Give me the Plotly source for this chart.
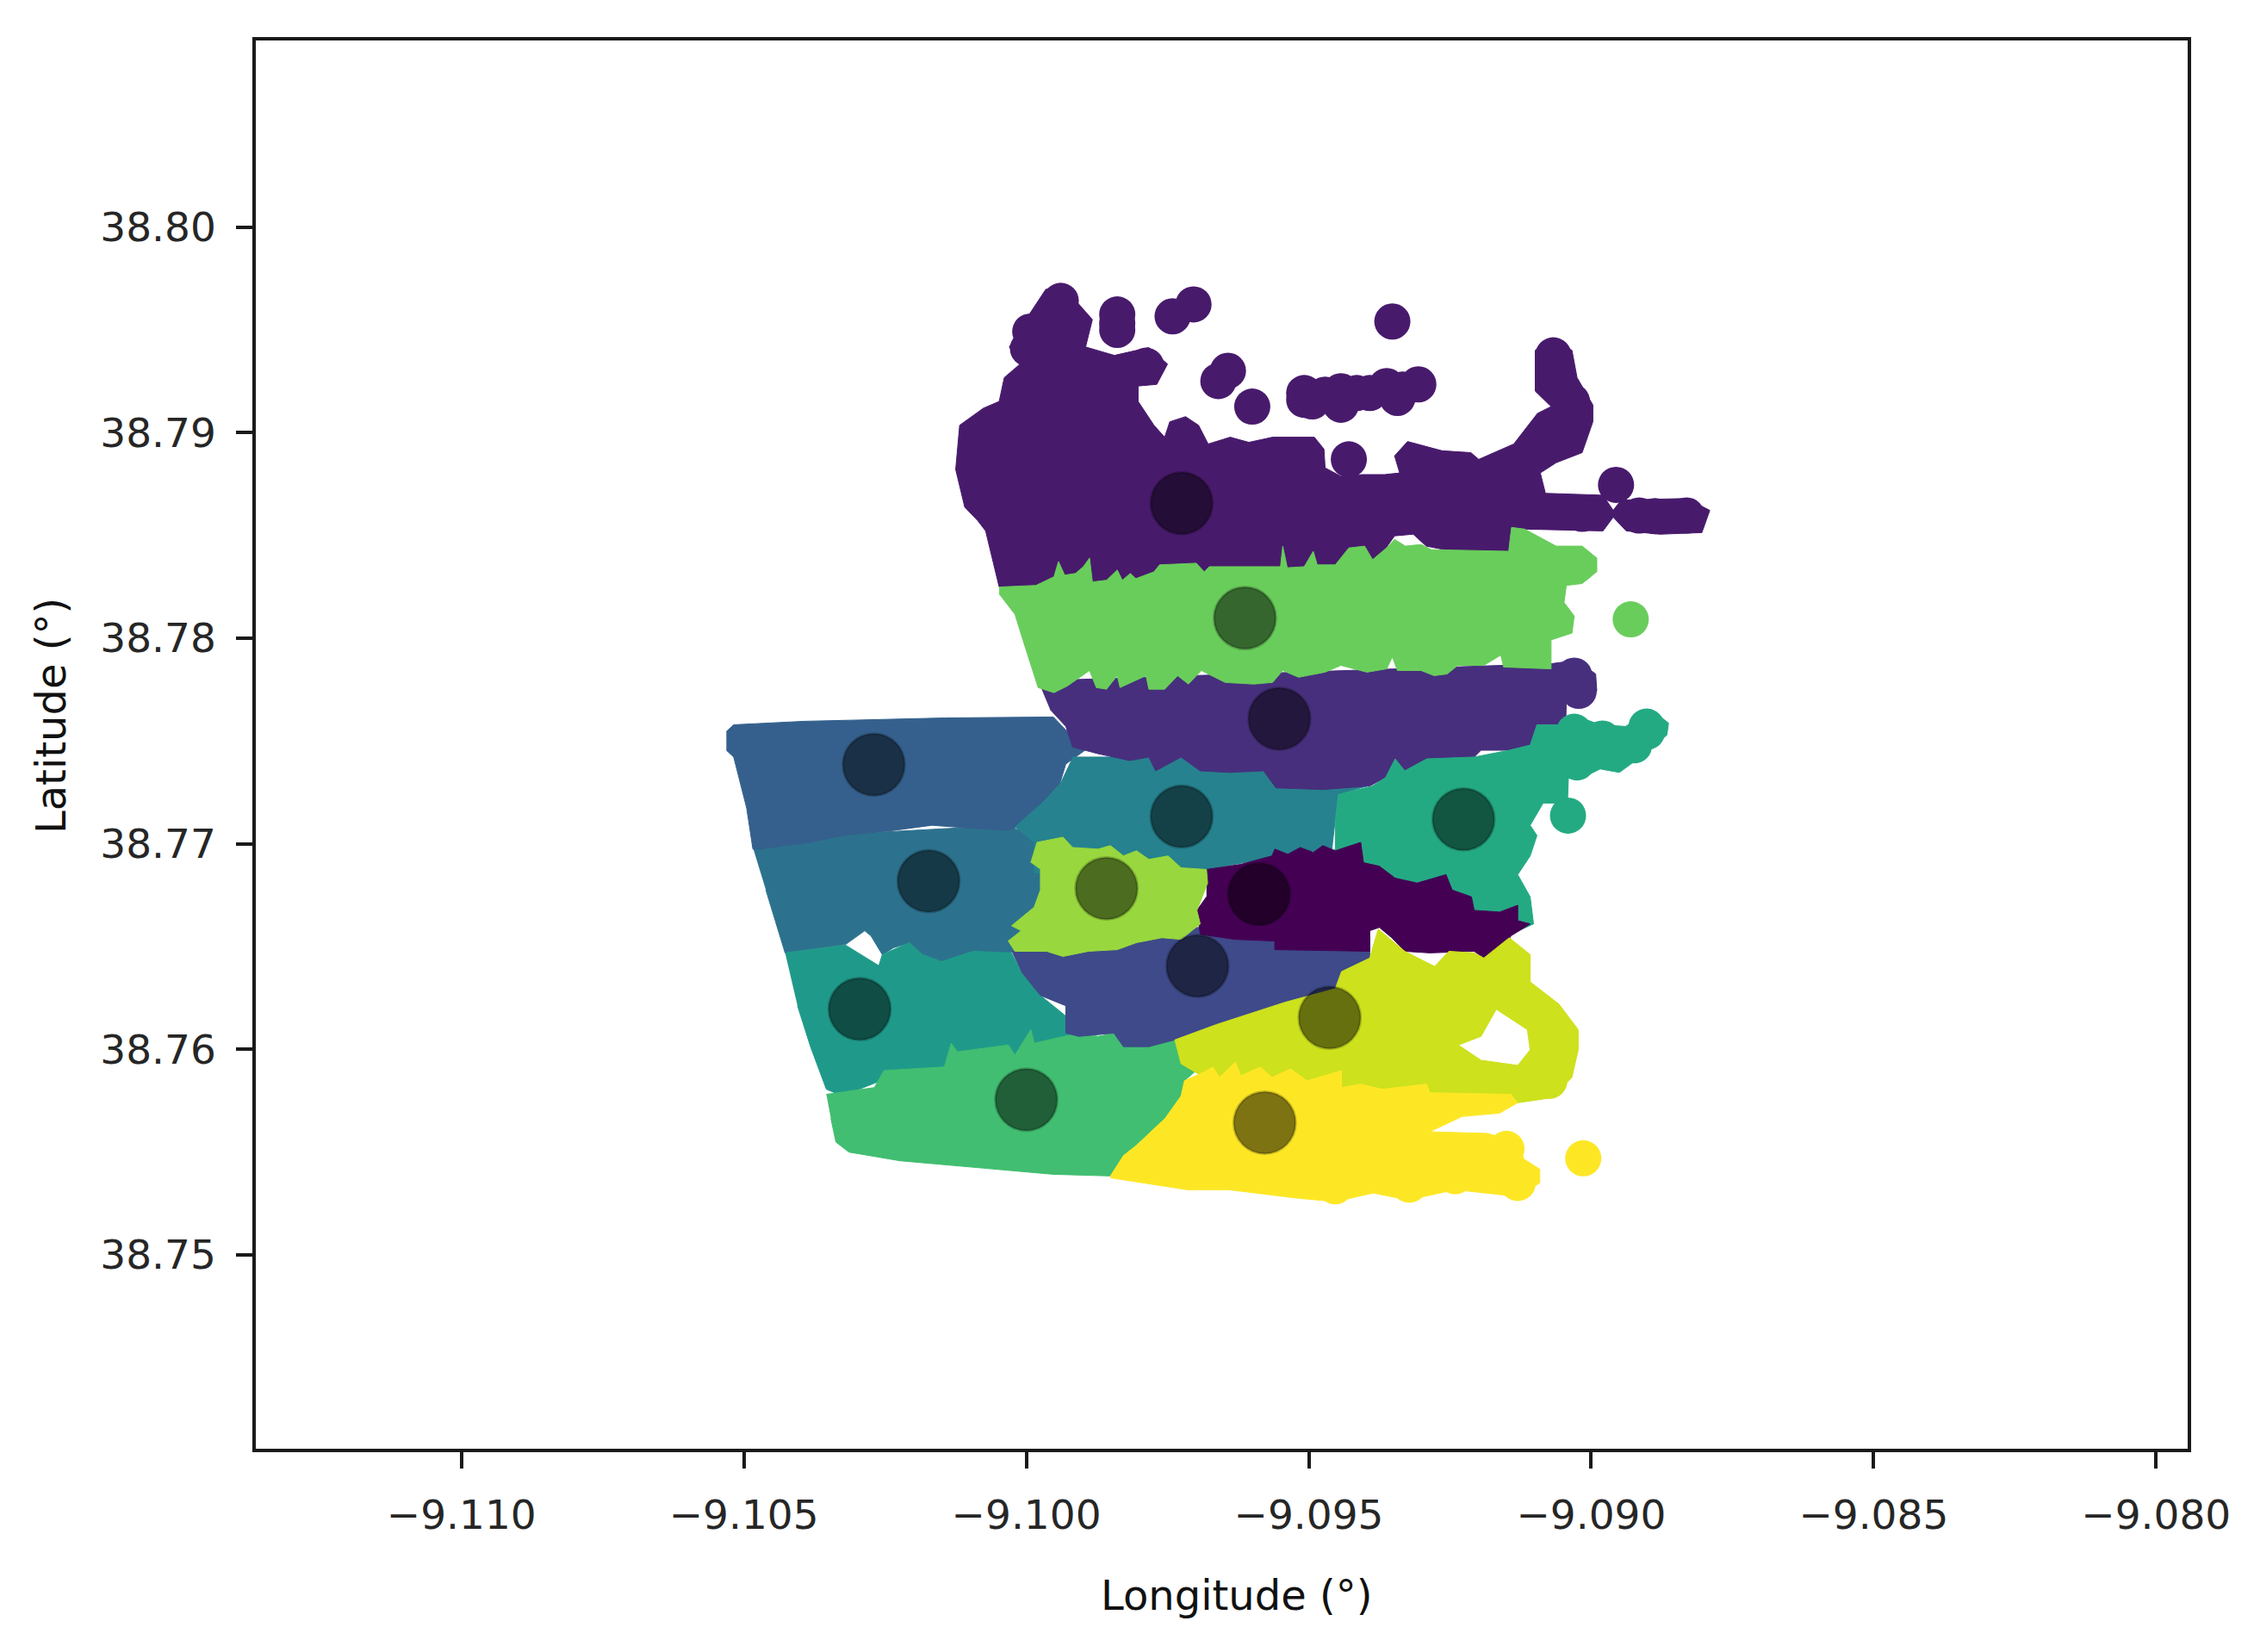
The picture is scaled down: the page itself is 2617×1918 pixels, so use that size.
import plotly.graph_objects as go

# region outlines, (longitude, latitude)
top_purple = [(-9.09937, 38.79719), (-9.09909, 38.79633), (-9.09883, 38.79550), (-9.09895, 38.79417),
    (-9.09844, 38.79376), (-9.09783, 38.79414), (-9.09750, 38.79334), (-9.09769, 38.79235),
    (-9.09802, 38.79227), (-9.09802, 38.79152), (-9.09774, 38.79036), (-9.09755, 38.78978),
    (-9.09746, 38.79053), (-9.09718, 38.79078), (-9.09695, 38.79036), (-9.09678, 38.78945),
    (-9.09639, 38.78978), (-9.09606, 38.78953), (-9.09564, 38.78978), (-9.09490, 38.78978),
    (-9.09473, 38.78920), (-9.09471, 38.78829), (-9.09443, 38.78788), (-9.09406, 38.78796),
    (-9.09366, 38.78796), (-9.09339, 38.78804), (-9.09348, 38.78887), (-9.09325, 38.78957),
    (-9.09264, 38.78912), (-9.09213, 38.78903), (-9.09199, 38.78870), (-9.09137, 38.78945),
    (-9.09095, 38.79094), (-9.09071, 38.79127), (-9.09099, 38.79202), (-9.09099, 38.79401),
    (-9.09071, 38.79454), (-9.09034, 38.79401), (-9.09025, 38.79268), (-9.08997, 38.79135),
    (-9.08997, 38.79053), (-9.09016, 38.78903), (-9.09062, 38.78854), (-9.09090, 38.78804),
    (-9.09081, 38.78705), (-9.08979, 38.78696), (-9.08961, 38.78622), (-9.08947, 38.78672),
    (-9.08831, 38.78680), (-9.08790, 38.78622), (-9.08804, 38.78514), (-9.08878, 38.78506),
    (-9.08938, 38.78522), (-9.08961, 38.78589), (-9.08979, 38.78522), (-9.09118, 38.78531),
    (-9.09146, 38.78423), (-9.09245, 38.78423), (-9.09292, 38.78448), (-9.09315, 38.78506),
    (-9.09348, 38.78498), (-9.09376, 38.78390), (-9.09657, 38.78274), (-9.10048, 38.78249),
    (-9.10072, 38.78522), (-9.10086, 38.78572), (-9.10109, 38.78638), (-9.10125, 38.78821),
    (-9.10118, 38.79036), (-9.10076, 38.79119), (-9.10048, 38.79152), (-9.10039, 38.79268),
    (-9.10011, 38.79334), (-9.10030, 38.79417), (-9.09997, 38.79566), (-9.09965, 38.79699)]

light_green = [(-9.10048, 38.78249), (-9.09983, 38.78257), (-9.09951, 38.78299), (-9.09943, 38.78373),
    (-9.09932, 38.78307), (-9.09913, 38.78315), (-9.09899, 38.78348), (-9.09888, 38.78390),
    (-9.09883, 38.78274), (-9.09858, 38.78282), (-9.09839, 38.78332), (-9.09830, 38.78282),
    (-9.09816, 38.78315), (-9.09806, 38.78290), (-9.09774, 38.78323), (-9.09764, 38.78357),
    (-9.09699, 38.78365), (-9.09685, 38.78323), (-9.09676, 38.78348), (-9.09550, 38.78348),
    (-9.09546, 38.78448), (-9.09538, 38.78343), (-9.09508, 38.78348), (-9.09492, 38.78423),
    (-9.09485, 38.78357), (-9.09453, 38.78357), (-9.09429, 38.78439), (-9.09401, 38.78448),
    (-9.09387, 38.78382), (-9.09362, 38.78440), (-9.09348, 38.78481), (-9.09329, 38.78448),
    (-9.09301, 38.78456), (-9.09283, 38.78431), (-9.09146, 38.78423), (-9.09141, 38.78539),
    (-9.09118, 38.78531), (-9.09062, 38.78448), (-9.09016, 38.78448), (-9.08990, 38.78390),
    (-9.08990, 38.78324), (-9.09016, 38.78266), (-9.09044, 38.78257), (-9.09048, 38.78174),
    (-9.09030, 38.78108), (-9.09034, 38.78025), (-9.09071, 38.77992), (-9.09071, 38.77851),
    (-9.09155, 38.77860), (-9.09160, 38.77918), (-9.09190, 38.77868), (-9.09236, 38.77868),
    (-9.09255, 38.77826), (-9.09278, 38.77818), (-9.09301, 38.77843), (-9.09343, 38.77843),
    (-9.09352, 38.77909), (-9.09362, 38.77851), (-9.09397, 38.77835), (-9.09443, 38.77868),
    (-9.09471, 38.77835), (-9.09518, 38.77810), (-9.09546, 38.77843), (-9.09564, 38.77785),
    (-9.09597, 38.77777), (-9.09648, 38.77785), (-9.09690, 38.77843), (-9.09713, 38.77777),
    (-9.09732, 38.77818), (-9.09755, 38.77752), (-9.09783, 38.77752), (-9.09788, 38.77818),
    (-9.09834, 38.77760), (-9.09839, 38.77818), (-9.09858, 38.77752), (-9.09876, 38.77760),
    (-9.09888, 38.77843), (-9.09927, 38.77768), (-9.09951, 38.77735), (-9.09979, 38.77760),
    (-9.10006, 38.77992), (-9.10020, 38.78116), (-9.10048, 38.78216)]

indigo = [(-9.09979, 38.77793), (-9.09071, 38.77876), (-9.09025, 38.77893), (-9.08992, 38.77826),
    (-9.08990, 38.77744), (-9.09016, 38.77661), (-9.09044, 38.77694), (-9.09045, 38.77578),
    (-9.09046, 38.77579), (-9.09096, 38.77579), (-9.09108, 38.77480), (-9.09145, 38.77455),
    (-9.09195, 38.77455), (-9.09207, 38.77422), (-9.09291, 38.77413), (-9.09330, 38.77355),
    (-9.09347, 38.77413), (-9.09364, 38.77322), (-9.09392, 38.77281), (-9.09475, 38.77264),
    (-9.09558, 38.77272), (-9.09580, 38.77355), (-9.09640, 38.77347), (-9.09692, 38.77355),
    (-9.09726, 38.77422), (-9.09771, 38.77355), (-9.09783, 38.77422), (-9.09817, 38.77405),
    (-9.09873, 38.77438), (-9.09918, 38.77471), (-9.09930, 38.77571), (-9.09958, 38.77654)]

steel_blue = [(-9.10531, 38.77546), (-9.10518, 38.77579), (-9.10393, 38.77596), (-9.10145, 38.77612),
    (-9.09952, 38.77617), (-9.09896, 38.77455), (-9.09930, 38.77388), (-9.09941, 38.77289),
    (-9.09969, 38.77206), (-9.10009, 38.77090), (-9.10032, 38.77065), (-9.10088, 38.77074),
    (-9.10167, 38.77090), (-9.10235, 38.77065), (-9.10326, 38.77040), (-9.10382, 38.77007),
    (-9.10473, 38.76974), (-9.10484, 38.76974), (-9.10495, 38.77173), (-9.10518, 38.77422),
    (-9.10531, 38.77455)]

slate_teal = [(-9.10484, 38.76982), (-9.10371, 38.77040), (-9.10032, 38.77090), (-9.09969, 38.77007),
    (-9.09960, 38.76759), (-9.09980, 38.76676), (-9.10010, 38.76510), (-9.10032, 38.76461),
    (-9.10094, 38.76477), (-9.10150, 38.76427), (-9.10184, 38.76461), (-9.10207, 38.76519),
    (-9.10235, 38.76494), (-9.10255, 38.76461), (-9.10275, 38.76552), (-9.10286, 38.76577),
    (-9.10320, 38.76510), (-9.10359, 38.76494), (-9.10427, 38.76469), (-9.10461, 38.76775)]

sea_teal = [(-9.10427, 38.76469), (-9.10359, 38.76494), (-9.10320, 38.76507), (-9.10261, 38.76407),
    (-9.10255, 38.76461), (-9.10207, 38.76519), (-9.10184, 38.76461), (-9.10150, 38.76427),
    (-9.10094, 38.76477), (-9.10026, 38.76469), (-9.10009, 38.76378), (-9.09975, 38.76262),
    (-9.09930, 38.76162), (-9.09918, 38.76063), (-9.10032, 38.75897), (-9.10258, 38.75847),
    (-9.10326, 38.75773), (-9.10354, 38.75806), (-9.10382, 38.76013), (-9.10405, 38.76212)]

mid_green = [(-9.10354, 38.75781), (-9.10269, 38.75814), (-9.10252, 38.75897), (-9.10145, 38.75914),
    (-9.10133, 38.76030), (-9.10122, 38.75988), (-9.10032, 38.76021), (-9.10020, 38.75972),
    (-9.09992, 38.76096), (-9.09986, 38.76030), (-9.09907, 38.76079), (-9.09873, 38.76063),
    (-9.09845, 38.76079), (-9.09828, 38.76013), (-9.09783, 38.76013), (-9.09737, 38.76046),
    (-9.09692, 38.75914), (-9.09720, 38.75847), (-9.09726, 38.75773), (-9.09754, 38.75665),
    (-9.09805, 38.75533), (-9.09828, 38.75483), (-9.09851, 38.75384), (-9.09952, 38.75392),
    (-9.10088, 38.75425), (-9.10224, 38.75458), (-9.10314, 38.75500), (-9.10337, 38.75549),
    (-9.10346, 38.75665)]

center_teal = [(-9.09918, 38.77422), (-9.09579, 38.77422), (-9.09387, 38.77289), (-9.09448, 38.77239),
    (-9.09453, 38.77123), (-9.09459, 38.76974), (-9.09565, 38.76933), (-9.09681, 38.76875),
    (-9.09737, 38.76858), (-9.09986, 38.76858), (-9.09986, 38.77007), (-9.10020, 38.77082),
    (-9.09969, 38.77206), (-9.09941, 38.77289)]

right_green = [(-9.09448, 38.77239), (-9.09387, 38.77281), (-9.09364, 38.77322), (-9.09347, 38.77413),
    (-9.09330, 38.77355), (-9.09291, 38.77413), (-9.09207, 38.77422), (-9.09145, 38.77455),
    (-9.09108, 38.77480), (-9.09096, 38.77579), (-9.09046, 38.77579), (-9.09017, 38.77612),
    (-9.08984, 38.77579), (-9.08939, 38.77571), (-9.08894, 38.77654), (-9.08863, 38.77587),
    (-9.08866, 38.77529), (-9.08905, 38.77438), (-9.08950, 38.77347), (-9.08984, 38.77364),
    (-9.09017, 38.77319), (-9.09057, 38.77388), (-9.09040, 38.77339), (-9.09042, 38.77198),
    (-9.09085, 38.77198), (-9.09108, 38.77090), (-9.09096, 38.77040), (-9.09108, 38.76941),
    (-9.09130, 38.76850), (-9.09108, 38.76742), (-9.09102, 38.76610), (-9.09142, 38.76560),
    (-9.09207, 38.76593), (-9.09364, 38.76759), (-9.09475, 38.76924), (-9.09453, 38.76974),
    (-9.09453, 38.77123)]

dark_purple = [(-9.09681, 38.76875), (-9.09620, 38.76900), (-9.09565, 38.76941), (-9.09560, 38.76974),
    (-9.09537, 38.76949), (-9.09515, 38.76982), (-9.09492, 38.76958), (-9.09475, 38.76991),
    (-9.09453, 38.76966), (-9.09408, 38.77007), (-9.09403, 38.76908), (-9.09375, 38.76891),
    (-9.09347, 38.76833), (-9.09308, 38.76809), (-9.09257, 38.76850), (-9.09246, 38.76775),
    (-9.09212, 38.76742), (-9.09207, 38.76676), (-9.09162, 38.76668), (-9.09130, 38.76701),
    (-9.09130, 38.76626), (-9.09108, 38.76610), (-9.09142, 38.76552), (-9.09157, 38.76477),
    (-9.09190, 38.76444), (-9.09207, 38.76477), (-9.09286, 38.76469), (-9.09330, 38.76477),
    (-9.09353, 38.76543), (-9.09375, 38.76593), (-9.09392, 38.76577), (-9.09392, 38.76477),
    (-9.09560, 38.76485), (-9.09560, 38.76527), (-9.09631, 38.76535), (-9.09692, 38.76560),
    (-9.09698, 38.76676), (-9.09681, 38.76742)]

lime = [(-9.09992, 38.76908), (-9.09981, 38.77007), (-9.09935, 38.77032), (-9.09918, 38.76982),
    (-9.09873, 38.76974), (-9.09851, 38.76991), (-9.09828, 38.76941), (-9.09805, 38.76966),
    (-9.09783, 38.76924), (-9.09749, 38.76941), (-9.09726, 38.76883), (-9.09681, 38.76875),
    (-9.09679, 38.76809), (-9.09698, 38.76676), (-9.09692, 38.76610), (-9.09726, 38.76535),
    (-9.09760, 38.76543), (-9.09805, 38.76519), (-9.09839, 38.76485), (-9.09890, 38.76477),
    (-9.09935, 38.76452), (-9.09964, 38.76477), (-9.10020, 38.76477), (-9.10032, 38.76527),
    (-9.10009, 38.76577), (-9.10026, 38.76601), (-9.09986, 38.76692), (-9.09975, 38.76775),
    (-9.09975, 38.76875)]

dusk_blue = [(-9.10026, 38.76477), (-9.09696, 38.76593), (-9.09392, 38.76543), (-9.09392, 38.76444),
    (-9.09442, 38.76378), (-9.09453, 38.76295), (-9.09542, 38.76229), (-9.09663, 38.76121),
    (-9.09737, 38.76046), (-9.09783, 38.76013), (-9.09828, 38.76013), (-9.09845, 38.76079),
    (-9.09907, 38.76063), (-9.09930, 38.76079), (-9.09930, 38.76212), (-9.09975, 38.76262),
    (-9.10009, 38.76378)]

# second part after the gap is the white hole near the right end
yellow_green = [(-9.09737, 38.76046), (-9.09663, 38.76121), (-9.09542, 38.76229), (-9.09453, 38.76295),
    (-9.09442, 38.76378), (-9.09392, 38.76444), (-9.09377, 38.76585), (-9.09330, 38.76477),
    (-9.09277, 38.76403), (-9.09252, 38.76477), (-9.09207, 38.76469), (-9.09190, 38.76444),
    (-9.09145, 38.76543), (-9.09108, 38.76461), (-9.09108, 38.76328), (-9.09057, 38.76220),
    (-9.09023, 38.76096), (-9.09023, 38.75997), (-9.09034, 38.75864), (-9.09068, 38.75765),
    (-9.09130, 38.75740), (-9.09308, 38.75731), (-9.09431, 38.75765), (-9.09696, 38.75881),
    (-9.09726, 38.75930), (-9.09737, 38.76046), (None, None),
    (-9.09168, 38.76195), (-9.09195, 38.76063), (-9.09235, 38.76021), (-9.09195, 38.75947),
    (-9.09130, 38.75922), (-9.09108, 38.75997), (-9.09113, 38.76096), (-9.09168, 38.76195)]

yellow = [(-9.09851, 38.75384), (-9.09828, 38.75483), (-9.09805, 38.75533), (-9.09754, 38.75665),
    (-9.09726, 38.75773), (-9.09720, 38.75847), (-9.09692, 38.75881), (-9.09670, 38.75914),
    (-9.09658, 38.75864), (-9.09630, 38.75939), (-9.09620, 38.75872), (-9.09586, 38.75914),
    (-9.09565, 38.75864), (-9.09532, 38.75905), (-9.09503, 38.75847), (-9.09442, 38.75897),
    (-9.09442, 38.75814), (-9.09408, 38.75831), (-9.09370, 38.75806), (-9.09291, 38.75831),
    (-9.09286, 38.75789), (-9.09142, 38.75781), (-9.09130, 38.75740), (-9.09162, 38.75690),
    (-9.09229, 38.75673), (-9.09286, 38.75599), (-9.09184, 38.75591), (-9.09130, 38.75549),
    (-9.09119, 38.75466), (-9.09091, 38.75417), (-9.09091, 38.75350), (-9.09130, 38.75284),
    (-9.09241, 38.75317), (-9.09324, 38.75267), (-9.09386, 38.75301), (-9.09453, 38.75259),
    (-9.09520, 38.75276), (-9.09642, 38.75317), (-9.09715, 38.75317), (-9.09851, 38.75375)]

# separate dots and the dots that round off the outer edges
top_purple_pts = [(-9.09839, 38.79575), (-9.09839, 38.79533), (-9.09839, 38.79500), (-9.09741, 38.79566),
    (-9.09704, 38.79624), (-9.09352, 38.79541), (-9.09643, 38.79301), (-9.09660, 38.79251),
    (-9.09600, 38.79127), (-9.09508, 38.79160), (-9.09508, 38.79193), (-9.09494, 38.79152),
    (-9.09443, 38.79136), (-9.09471, 38.79185), (-9.09443, 38.79202), (-9.09415, 38.79193),
    (-9.09392, 38.79193), (-9.09362, 38.79227), (-9.09334, 38.79210), (-9.09306, 38.79235),
    (-9.09343, 38.79169), (-9.09429, 38.78870), (-9.08956, 38.78746), (-9.09939, 38.79641),
    (-9.09993, 38.79492), (-9.09997, 38.79409), (-9.09788, 38.79326), (-9.09067, 38.79376),
    (-9.09067, 38.79285), (-9.09034, 38.79152), (-9.09030, 38.79077), (-9.09048, 38.78970),
    (-9.09016, 38.78605), (-9.08831, 38.78597), (-9.08887, 38.78594), (-9.08915, 38.78597)]
light_green_pts = [(-9.08930, 38.78092), (-9.09025, 38.78357), (-9.09067, 38.78092)]
indigo_pts = [(-9.09030, 38.77818), (-9.09022, 38.77744)]
right_green_pts = [(-9.09041, 38.77137), (-9.08902, 38.77570), (-9.09030, 38.77545), (-9.08980, 38.77512),
    (-9.09025, 38.77396), (-9.08957, 38.77445), (-9.08901, 38.77545), (-9.08924, 38.77479)]
yellow_green_pts = [(-9.09074, 38.76079), (-9.09068, 38.75947), (-9.09074, 38.75847)]
yellow_pts = [(-9.09014, 38.75470), (-9.09130, 38.75350), (-9.09150, 38.75516), (-9.09453, 38.75334),
    (-9.09322, 38.75342), (-9.09241, 38.75383)]

centroids_lon = [-9.09725, -9.09613, -9.09552, -9.10270, -9.09725, -9.09226, -9.10173,
                 -9.09858, -9.09588, -9.09697, -9.10295, -9.09463, -9.10000, -9.09578]
centroids_lat = [38.78657, 38.78098, 38.77608, 38.77385, 38.77133, 38.77119, 38.76818,
                 38.76783, 38.76755, 38.76406, 38.76196, 38.76154, 38.75755, 38.75643]

x_ticks = [-9.110, -9.105, -9.100, -9.095, -9.090, -9.085, -9.080]
y_ticks = [38.75, 38.76, 38.77, 38.78, 38.79, 38.80]

# drawn in this order, later ones sit on top
clusters = [
    (slate_teal, [], "#2c728e"),
    (steel_blue, [], "#35608d"),
    (sea_teal, [], "#1f9a8a"),
    (mid_green, [], "#41be71"),
    (center_teal, [], "#26828e"),
    (top_purple, top_purple_pts, "#481a6c"),
    (indigo, indigo_pts, "#472f7d"),
    (light_green, light_green_pts, "#69cd5b"),
    (right_green, right_green_pts, "#24aa83"),
    (dusk_blue, [], "#3e4a89"),
    (dark_purple, [], "#440154"),
    (lime, [], "#98d83e"),
    (yellow_green, yellow_green_pts, "#cde11d"),
    (yellow, yellow_pts, "#fde725"),
]

fig = go.Figure()
for outline, pts, color in clusters:
    fig.add_trace(go.Scatter(
        x=[p[0] for p in outline], y=[p[1] for p in outline],
        mode="lines", fill="toself", fillcolor=color,
        line=dict(color=color, width=1), hoverinfo="skip",
    ))
    if pts:
        fig.add_trace(go.Scatter(
            x=[p[0] for p in pts], y=[p[1] for p in pts], mode="markers",
            marker=dict(size=42, color=color, line=dict(width=0)),
        ))

fig.add_trace(go.Scatter(
    x=centroids_lon, y=centroids_lat, mode="markers",
    marker=dict(size=72, color="rgba(0,0,0,0.5)", line=dict(color="rgba(0,0,0,0.2)", width=3)),
))

tick_font = dict(family="DejaVu Sans", size=47, color="#262626")
axis_style = dict(
    showgrid=False, zeroline=False, showline=True, mirror=True,
    linecolor="#1a1a1a", linewidth=3.5, ticks="outside", ticklen=19, tickwidth=4,
    tickcolor="#1a1a1a", tickfont=tick_font, ticklabelstandoff=14,
)
fig.update_xaxes(range=[-9.11364, -9.07944], tickvals=x_ticks, tickformat=".3f", **axis_style)
fig.update_yaxes(range=[38.74057, 38.80908], tickvals=y_ticks, tickformat=".2f", **axis_style)

title_font = dict(family="DejaVu Sans", size=48, color="#111111")
fig.add_annotation(text="Longitude (°)", xref="paper", yref="paper", x=0.5075, y=-0.1042,
                   xanchor="center", yanchor="middle", showarrow=False, font=title_font)
fig.add_annotation(text="Latitude (°)", xref="paper", yref="paper", x=-0.1060, y=0.5206,
                   xanchor="center", yanchor="middle", showarrow=False, textangle=-90, font=title_font)

fig.update_layout(
    width=2617, height=1918, showlegend=False,
    margin=dict(l=297, r=77, t=47, b=236),
    paper_bgcolor="white", plot_bgcolor="white",
)
fig.write_html("out.html", config={"displayModeBar": False}, post_script="document.body.style.margin='0';")
